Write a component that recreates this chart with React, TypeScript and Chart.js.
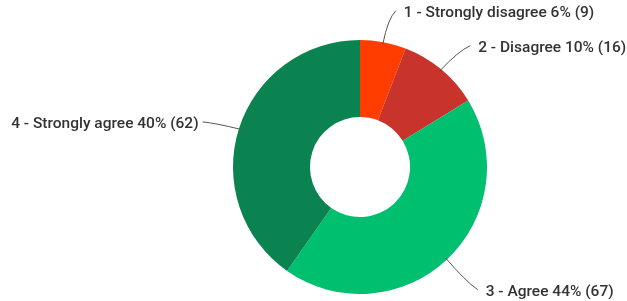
import React, { useEffect, useRef } from "react";
import { Chart, registerables } from "chart.js";

Chart.register(...registerables);

const categories = ["1 - Strongly disagree", "2 - Disagree", "3 - Agree", "4 - Strongly agree"];
const counts = [9, 16, 67, 62];
const percents = [6, 10, 44, 40];
const colors = ["#ff3d00", "#c8332b", "#00bf6f", "#0b8350"];

const labelPlugin = {
  id: "leaderLabels",
  afterDatasetsDraw(chart: any) {
    const ctx = chart.ctx;
    const meta = chart.getDatasetMeta(0);
    ctx.save();
    ctx.font = "500 15.5px Roboto";
    ctx.textBaseline = "middle";
    meta.data.forEach((arc: any, i: number) => {
      const { x, y, startAngle, endAngle, outerRadius } = arc.getProps(
        ["x", "y", "startAngle", "endAngle", "outerRadius"],
        true
      );
      const mid = (startAngle + endAngle) / 2;
      const cos = Math.cos(mid);
      const sin = Math.sin(mid);
      const right = cos >= 0;
      const sx = x + cos * (outerRadius - 2);
      const sy = y + sin * (outerRadius - 2);
      const cx = x + cos * (outerRadius + 26);
      const cy = y + sin * (outerRadius + 26) + 2;
      const ex = x + cos * (outerRadius + 36) + (right ? 6 : -2);
      const ey = y + sin * (outerRadius + 36) + 4;
      ctx.beginPath();
      ctx.moveTo(sx, sy);
      ctx.quadraticCurveTo(cx, cy, ex, ey);
      ctx.strokeStyle = "#555";
      ctx.lineWidth = 1;
      ctx.stroke();
      const text = `${categories[i]} ${percents[i]}% (${counts[i]})`;
      ctx.fillStyle = "#333333";
      ctx.textAlign = right ? "left" : "right";
      ctx.fillText(text, ex + (right ? 8 : -4), ey + 2);
    });
    ctx.restore();
  },
};

export default function App() {
  const ref = useRef<HTMLCanvasElement>(null);
  useEffect(() => {
    document.body.style.margin = "0";
    const chart = new Chart(ref.current!, {
      type: "doughnut",
      data: {
        labels: categories,
        datasets: [
          {
            data: counts,
            backgroundColor: colors,
            borderWidth: 0,
          },
        ],
      },
      options: {
        animation: false,
        responsive: false,
        maintainAspectRatio: false,
        cutout: "39.4%",
        layout: { padding: { left: 233, right: 140, top: 40, bottom: 7 } },
        plugins: {
          legend: { display: false },
          tooltip: { enabled: false },
        },
      },
      plugins: [labelPlugin],
    });
    return () => chart.destroy();
  }, []);
  return (
    <div style={{ width: 627, height: 301 }}>
      <canvas ref={ref} width={627} height={301} style={{ display: "block" }} />
    </div>
  );
}
